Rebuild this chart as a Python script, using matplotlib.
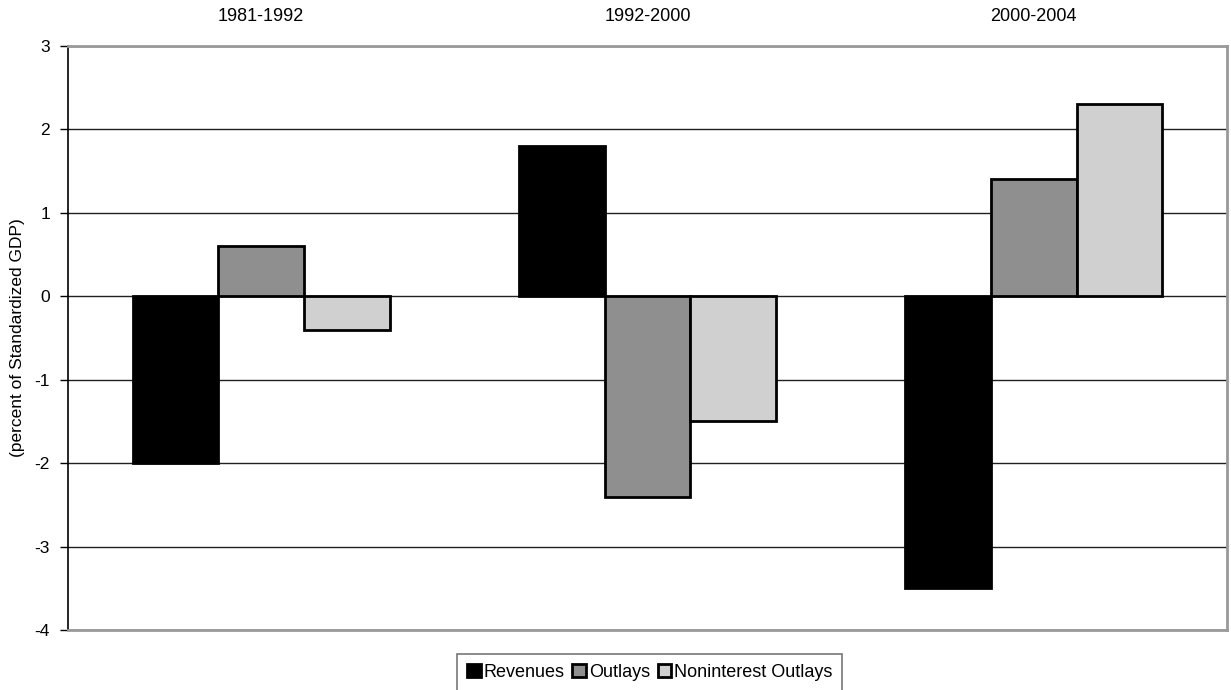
import matplotlib
matplotlib.use("Agg")
import matplotlib.pyplot as plt
import numpy as np

periods = ["1981-1992", "1992-2000", "2000-2004"]
series_names = ["Revenues", "Outlays", "Noninterest Outlays"]
revenues = [-2.0, 1.8, -3.5]
outlays = [0.6, -2.4, 1.4]
noninterest_outlays = [-0.4, -1.5, 2.3]
series_values = [revenues, outlays, noninterest_outlays]
series_colors = ["#000000", "#8f8f8f", "#d0d0d0"]
y_ticks = [3, 2, 1, 0, -1, -2, -3, -4]

plt.rcParams["font.family"] = ["Liberation Sans", "DejaVu Sans"]

fig = plt.figure(figsize=(12.31, 6.90), dpi=100)
ax = fig.add_axes([68 / 1231, 1 - 630 / 690, (1227 - 68) / 1231, (630 - 46) / 690])

x = np.arange(len(periods))
width = 0.222
offsets = [-width, 0, width]
for vals, name, col, off in zip(series_values, series_names, series_colors, offsets):
    ax.bar(x + off, vals, width, color=col, edgecolor="black", linewidth=2,
           label=name, zorder=3)

ax.set_xlim(-0.5, len(periods) - 0.5)
ax.set_ylim(-4, 3)
ax.set_yticks(y_ticks)
ax.set_yticklabels([str(t) for t in y_ticks], fontsize=12.5)
ax.yaxis.grid(True, color="#202020", linewidth=1.0, zorder=0)
ax.tick_params(axis="y", length=6, width=1, color="black", pad=7)

ax.xaxis.set_ticks_position("top")
ax.xaxis.set_label_position("top")
ax.set_xticks(x)
ax.set_xticklabels(periods, fontsize=13)
ax.tick_params(axis="x", length=0, pad=15)

for side in ["top", "right", "bottom"]:
    ax.spines[side].set_color("#999999")
    ax.spines[side].set_linewidth(2)
ax.spines["left"].set_color("black")
ax.spines["left"].set_linewidth(1.2)

fig.text(18 / 1231, 1 - 338 / 690, "(percent of Standardized GDP)", fontsize=12.5,
         rotation=90, ha="center", va="center")

leg = ax.legend(loc="upper center", bbox_to_anchor=(0.502, -0.041), ncol=3,
                frameon=True, fancybox=False, fontsize=13, handlelength=0.75,
                handleheight=0.75, handletextpad=0.15, columnspacing=0.45,
                borderpad=0.55, borderaxespad=0)
leg.get_frame().set_edgecolor("#555555")
leg.get_frame().set_linewidth(1.2)

fig.savefig("out.png", dpi=100)
